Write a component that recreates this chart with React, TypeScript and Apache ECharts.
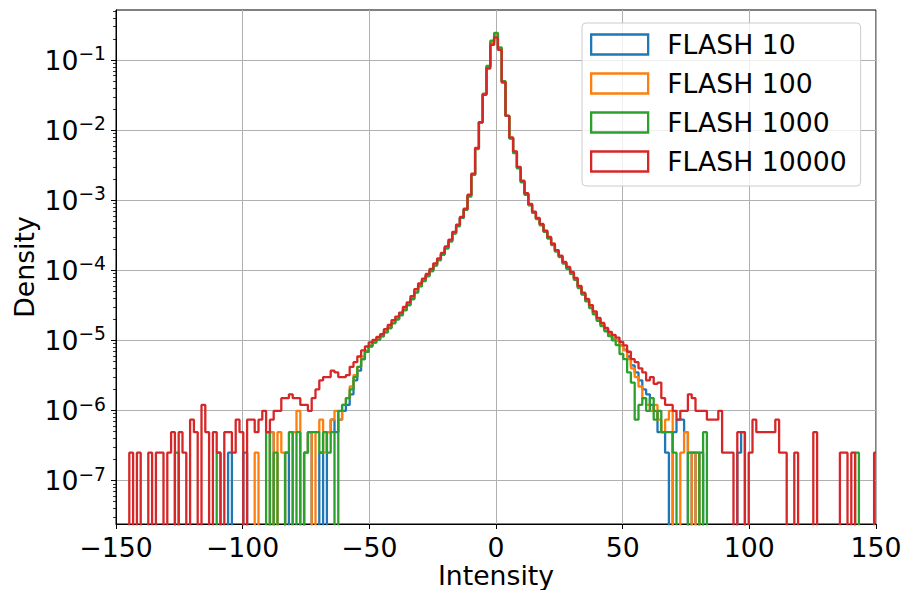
import React, { useEffect, useRef } from 'react';
import * as echarts from 'echarts';

// Histogram bins: centres from -150 to 150, width 1.5
const BIN_START = -150;
const BIN_WIDTH = 1.5;

const SERIES_NAMES = ['FLASH 10', 'FLASH 100', 'FLASH 1000', 'FLASH 10000'];
const COLORS = ['#1f77b4', '#ff7f0e', '#2ca02c', '#d62728'];
const X_TICKS = [-150, -100, -50, 0, 50, 100, 150];
const Y_MAJOR = [1e-7, 1e-6, 1e-5, 1e-4, 1e-3, 1e-2, 1e-1];

// densities per bin (rows of 10 bins, first bin centre noted)
const flash10 = [
  /* -150 */ 0, 0, 0, 0, 0, 0, 0, 0, 0, 0,
  /* -135 */ 0, 0, 0, 0, 0, 0, 0, 0, 0, 0,
  /* -120 */ 0, 0, 0, 0, 0, 0, 0, 0, 0, 0,
  /* -105 */ 2.5e-7, 0, 0, 0, 2.5e-7, 0, 0, 0, 0, 0,
  /* -90 */ 0, 4.9e-7, 0, 0, 0, 2.5e-7, 0, 0, 0, 0,
  /* -75 */ 2.5e-7, 4.9e-7, 0, 0, 2.5e-7, 0, 4.9e-7, 7.4e-7, 4.9e-7, 7.4e-7,
  /* -60 */ 9.9e-7, 1.2e-6, 1.7e-6, 2.7e-6, 3.7e-6, 5.4e-6, 6.9e-6, 8.2e-6, 9.4e-6, 1.03e-5,
  /* -45 */ 1.15e-5, 1.32e-5, 1.5e-5, 1.78e-5, 2.0e-5, 2.3e-5, 2.7e-5, 3.2e-5, 3.9e-5, 4.9e-5,
  /* -30 */ 6.0e-5, 7.1e-5, 8.3e-5, 9.8e-5, 1.18e-4, 1.4e-4, 1.68e-4, 2.1e-4, 2.6e-4, 3.4e-4,
  /* -15 */ 4.3e-4, 5.6e-4, 7.4e-4, 1.15e-3, 2.3e-3, 5.5e-3, 1.3e-2, 3.3e-2, 8.0e-2, 0.175,
  /* 0 */ 0.225, 0.145, 4.9e-2, 1.6e-2, 7.7e-3, 4.8e-3, 2.9e-3, 1.85e-3, 1.22e-3, 8.7e-4,
  /* 15 */ 6.7e-4, 5.5e-4, 4.5e-4, 3.6e-4, 2.9e-4, 2.35e-4, 1.9e-4, 1.58e-4, 1.28e-4, 1.08e-4,
  /* 30 */ 9.1e-5, 7.5e-5, 5.8e-5, 4.6e-5, 3.7e-5, 3.0e-5, 2.45e-5, 2.0e-5, 1.68e-5, 1.42e-5,
  /* 45 */ 1.22e-5, 1.1e-5, 1.0e-5, 8.6e-6, 7.4e-6, 5.9e-6, 4.4e-6, 3.5e-6, 2.7e-6, 2.0e-6,
  /* 60 */ 1.7e-6, 1.2e-6, 9.9e-7, 4.9e-7, 4.9e-7, 2.5e-7, 0, 4.9e-7, 7.4e-7, 7.4e-7,
  /* 75 */ 4.9e-7, 0, 2.5e-7, 0, 2.5e-7, 0, 0, 0, 0, 0,
  /* 90 */ 0, 0, 0, 0, 2.5e-7, 4.9e-7, 0, 0, 0, 0,
  /* 105 */ 0, 0, 0, 0, 0, 0, 0, 0, 0, 0,
  /* 120 */ 0, 0, 0, 0, 0, 0, 0, 0, 0, 0,
  /* 135 */ 0, 0, 0, 0, 0, 0, 0, 0, 0, 0,
  /* 150 */ 0,
];

const flash100 = [
  /* -150 */ 0, 0, 0, 0, 0, 0, 0, 0, 0, 0,
  /* -135 */ 0, 0, 0, 0, 0, 0, 0, 0, 0, 0,
  /* -120 */ 0, 0, 0, 0, 0, 0, 0, 0, 0, 0,
  /* -105 */ 0, 0, 0, 0, 0, 0, 0, 2.5e-7, 0, 0,
  /* -90 */ 0, 4.9e-7, 0, 4.9e-7, 2.5e-7, 0, 0, 4.9e-7, 9.9e-7, 0,
  /* -75 */ 2.5e-7, 4.9e-7, 0, 4.9e-7, 7.4e-7, 2.5e-7, 4.9e-7, 7.4e-7, 9.9e-7, 7.4e-7,
  /* -60 */ 1.2e-6, 1.5e-6, 2.2e-6, 3.2e-6, 4.2e-6, 5.9e-6, 7.2e-6, 8.4e-6, 9.6e-6, 1.05e-5,
  /* -45 */ 1.17e-5, 1.35e-5, 1.55e-5, 1.8e-5, 2.05e-5, 2.35e-5, 2.8e-5, 3.3e-5, 4.0e-5, 5.0e-5,
  /* -30 */ 6.1e-5, 7.2e-5, 8.5e-5, 1.0e-4, 1.2e-4, 1.42e-4, 1.7e-4, 2.1e-4, 2.65e-4, 3.4e-4,
  /* -15 */ 4.4e-4, 5.7e-4, 7.5e-4, 1.16e-3, 2.3e-3, 5.5e-3, 1.3e-2, 3.3e-2, 8.1e-2, 0.18,
  /* 0 */ 0.23, 0.148, 5.0e-2, 1.6e-2, 7.8e-3, 4.9e-3, 2.9e-3, 1.86e-3, 1.24e-3, 8.8e-4,
  /* 15 */ 6.8e-4, 5.5e-4, 4.5e-4, 3.65e-4, 2.95e-4, 2.4e-4, 1.92e-4, 1.6e-4, 1.3e-4, 1.1e-4,
  /* 30 */ 9.2e-5, 7.6e-5, 5.9e-5, 4.7e-5, 3.8e-5, 3.1e-5, 2.5e-5, 2.02e-5, 1.7e-5, 1.45e-5,
  /* 45 */ 1.25e-5, 1.12e-5, 1.0e-5, 8.4e-6, 7.2e-6, 5.4e-6, 4.0e-6, 3.0e-6, 2.2e-6, 1.5e-6,
  /* 60 */ 1.2e-6, 9.9e-7, 1.2e-6, 7.4e-7, 4.9e-7, 7.4e-7, 9.9e-7, 0, 0, 2.5e-7,
  /* 75 */ 4.9e-7, 2.5e-7, 0, 2.5e-7, 0, 0, 0, 0, 0, 0,
  /* 90 */ 0, 0, 0, 0, 0, 0, 0, 0, 0, 0,
  /* 105 */ 0, 0, 0, 0, 0, 0, 0, 0, 0, 0,
  /* 120 */ 0, 0, 0, 0, 0, 0, 0, 0, 0, 0,
  /* 135 */ 0, 0, 0, 0, 0, 0, 0, 0, 0, 0,
  /* 150 */ 0,
];

const flash1000 = [
  /* -150 */ 0, 0, 0, 0, 0, 0, 0, 0, 0, 0,
  /* -135 */ 0, 0, 0, 0, 0, 0, 2.5e-7, 0, 0, 0,
  /* -120 */ 0, 0, 0, 0, 0, 0, 0, 2.5e-7, 0, 0,
  /* -105 */ 0, 0, 0, 0, 0, 0, 0, 0, 0, 0,
  /* -90 */ 4.9e-7, 0, 2.5e-7, 0, 0, 2.5e-7, 4.9e-7, 0, 4.9e-7, 0,
  /* -75 */ 2.5e-7, 4.9e-7, 4.9e-7, 4.9e-7, 2.5e-7, 4.9e-7, 2.5e-7, 4.9e-7, 0, 9.9e-7,
  /* -60 */ 1.2e-6, 1.5e-6, 2.0e-6, 3.0e-6, 4.2e-6, 5.4e-6, 6.9e-6, 8.4e-6, 9.3e-6, 1.02e-5,
  /* -45 */ 1.14e-5, 1.3e-5, 1.5e-5, 1.75e-5, 2.0e-5, 2.3e-5, 2.7e-5, 3.2e-5, 3.9e-5, 4.8e-5,
  /* -30 */ 5.9e-5, 7.0e-5, 8.3e-5, 9.8e-5, 1.17e-4, 1.4e-4, 1.68e-4, 2.05e-4, 2.6e-4, 3.35e-4,
  /* -15 */ 4.3e-4, 5.6e-4, 7.3e-4, 1.13e-3, 2.3e-3, 5.4e-3, 1.3e-2, 3.3e-2, 8.3e-2, 0.19,
  /* 0 */ 0.245, 0.152, 5.0e-2, 1.6e-2, 7.6e-3, 4.7e-3, 2.85e-3, 1.8e-3, 1.2e-3, 8.5e-4,
  /* 15 */ 6.6e-4, 5.4e-4, 4.4e-4, 3.55e-4, 2.85e-4, 2.3e-4, 1.85e-4, 1.55e-4, 1.25e-4, 1.05e-4,
  /* 30 */ 8.9e-5, 7.3e-5, 5.6e-5, 4.5e-5, 3.6e-5, 2.9e-5, 2.35e-5, 1.9e-5, 1.6e-5, 1.35e-5,
  /* 45 */ 1.15e-5, 1.0e-5, 8.6e-6, 6.4e-6, 5.4e-6, 3.5e-6, 2.5e-6, 7.4e-7, 1.2e-6, 1.5e-6,
  /* 60 */ 9.9e-7, 1.5e-6, 7.4e-7, 9.9e-7, 4.9e-7, 4.9e-7, 4.9e-7, 2.5e-7, 0, 0,
  /* 75 */ 0, 2.5e-7, 2.5e-7, 2.5e-7, 0, 4.9e-7, 0, 0, 0, 0,
  /* 90 */ 0, 0, 0, 0, 0, 0, 0, 0, 0, 0,
  /* 105 */ 0, 0, 0, 0, 0, 0, 0, 0, 0, 0,
  /* 120 */ 0, 0, 0, 0, 0, 0, 0, 0, 0, 0,
  /* 135 */ 0, 0, 0, 0, 0, 2.5e-7, 0, 0, 0, 0,
  /* 150 */ 0,
];

const flash10000 = [
  /* -150 */ 0, 0, 0, 0, 2.5e-7, 0, 2.5e-7, 0, 0, 2.5e-7,
  /* -135 */ 0, 2.5e-7, 2.5e-7, 0, 2.5e-7, 4.9e-7, 0, 4.9e-7, 2.5e-7, 0,
  /* -120 */ 7.4e-7, 4.9e-7, 0, 1.2e-6, 4.9e-7, 0, 4.9e-7, 2.5e-7, 0, 4.9e-7,
  /* -105 */ 4.9e-7, 2.5e-7, 7.4e-7, 4.9e-7, 0, 7.4e-7, 7.4e-7, 4.9e-7, 7.4e-7, 9.9e-7,
  /* -90 */ 4.9e-7, 7.4e-7, 9.9e-7, 9.9e-7, 1.5e-6, 1.5e-6, 1.7e-6, 1.5e-6, 1.5e-6, 1.2e-6,
  /* -75 */ 1.2e-6, 9.9e-7, 1.5e-6, 2.0e-6, 2.7e-6, 3.0e-6, 3.0e-6, 3.7e-6, 3.5e-6, 3.0e-6,
  /* -60 */ 3.0e-6, 3.2e-6, 4.2e-6, 4.9e-6, 5.9e-6, 7.2e-6, 8.2e-6, 9.4e-6, 1.02e-5, 1.12e-5,
  /* -45 */ 1.23e-5, 1.45e-5, 1.66e-5, 1.95e-5, 2.19e-5, 2.5e-5, 3.0e-5, 3.5e-5, 4.3e-5, 5.4e-5,
  /* -30 */ 6.5e-5, 7.6e-5, 8.9e-5, 1.05e-4, 1.26e-4, 1.48e-4, 1.78e-4, 2.2e-4, 2.75e-4, 3.55e-4,
  /* -15 */ 4.5e-4, 5.8e-4, 7.6e-4, 1.2e-3, 2.4e-3, 5.6e-3, 1.3e-2, 3.2e-2, 7.6e-2, 0.165,
  /* 0 */ 0.21, 0.14, 4.8e-2, 1.6e-2, 7.9e-3, 5.0e-3, 3.0e-3, 1.9e-3, 1.26e-3, 8.9e-4,
  /* 15 */ 6.9e-4, 5.6e-4, 4.6e-4, 3.7e-4, 3.0e-4, 2.4e-4, 1.95e-4, 1.62e-4, 1.32e-4, 1.12e-4,
  /* 30 */ 9.5e-5, 7.8e-5, 6.0e-5, 4.8e-5, 3.9e-5, 3.2e-5, 2.6e-5, 2.1e-5, 1.78e-5, 1.51e-5,
  /* 45 */ 1.32e-5, 1.2e-5, 1.1e-5, 9.5e-6, 8.5e-6, 6.9e-6, 5.4e-6, 4.9e-6, 4.0e-6, 3.5e-6,
  /* 60 */ 2.7e-6, 3.0e-6, 2.4e-6, 2.5e-6, 1.5e-6, 1.2e-6, 1.2e-6, 9.9e-7, 7.4e-7, 9.9e-7,
  /* 75 */ 9.9e-7, 1.7e-6, 1.5e-6, 9.9e-7, 9.9e-7, 9.9e-7, 7.4e-7, 7.4e-7, 7.4e-7, 9.9e-7,
  /* 90 */ 2.5e-7, 2.5e-7, 2.5e-7, 0, 4.9e-7, 4.9e-7, 0, 2.5e-7, 7.4e-7, 4.9e-7,
  /* 105 */ 4.9e-7, 4.9e-7, 4.9e-7, 4.9e-7, 7.4e-7, 2.5e-7, 2.5e-7, 0, 0, 2.5e-7,
  /* 120 */ 0, 0, 0, 0, 4.9e-7, 0, 0, 0, 0, 0,
  /* 135 */ 0, 2.5e-7, 2.5e-7, 0, 2.5e-7, 0, 0, 0, 0, 0,
  /* 150 */ 2.5e-7,
];

const SERIES_DATA = [flash10, flash100, flash1000, flash10000];

const FONT = 'DejaVu Sans';
const FS = 26.7;
const Y_MIN = 2.4e-8;
const Y_MAX = 0.52;

function minorTicks(): number[] {
  const out: number[] = [];
  for (let e = -8; e <= -1; e++) {
    for (let m = 2; m <= 9; m++) out.push(m * Math.pow(10, e));
  }
  return out;
}

const minus = (v: number) => (v < 0 ? '\u2212' + Math.abs(v) : String(v));

export default function App() {
  const ref = useRef<HTMLDivElement>(null);
  useEffect(() => {
    if (!ref.current) return;
    const chart = echarts.init(ref.current, undefined, { renderer: 'svg' });
    const series = SERIES_DATA.map((arr, si) => ({
      name: SERIES_NAMES[si],
      type: 'line',
      step: 'middle',
      symbol: 'none',
      clip: true,
      yAxisIndex: 0,
      lineStyle: { color: COLORS[si], width: 2.3 },
      itemStyle: { color: COLORS[si] },
      data: arr.map((v, i) => [BIN_START + i * BIN_WIDTH, v > 0 ? v : 1e-12]),
    }));
    chart.setOption({
      animation: false,
      backgroundColor: '#ffffff',
      grid: {
        left: 116,
        right: 28,
        top: 10,
        bottom: 66,
        outerBoundsMode: 'none',
        containLabel: false,
        show: true,
        borderColor: '#000',
        borderWidth: 1,
      },
      legend: {
        orient: 'vertical',
        left: 582,
        top: 23,
        itemWidth: 57,
        itemHeight: 20,
        itemGap: 12,
        padding: [8, 14, 11, 8],
        backgroundColor: 'rgba(255,255,255,0.8)',
        borderColor: '#cccccc',
        borderWidth: 1,
        borderRadius: 4,
        selectedMode: false,
        textStyle: {
          fontFamily: FONT,
          fontSize: FS,
          color: '#000',
          lineHeight: 27,
          padding: [0, 0, 0, 14],
        },
        data: SERIES_NAMES.map((n, i) => ({
          name: n,
          icon: 'rect',
          itemStyle: { color: 'rgba(255,255,255,0)', borderColor: COLORS[i], borderWidth: 2.3 },
        })),
      },
      xAxis: {
        type: 'value',
        min: X_TICKS[0],
        max: X_TICKS[X_TICKS.length - 1],
        interval: 50,
        name: 'Intensity',
        nameLocation: 'middle',
        nameGap: 37,
        nameMoveOverlap: false,
        nameTextStyle: { fontFamily: FONT, fontSize: FS, color: '#000', lineHeight: 28 },
        axisLine: { show: true, onZero: false, lineStyle: { color: '#000', width: 1 } },
        axisTick: { show: true, length: 5, lineStyle: { color: '#000', width: 1 } },
        axisLabel: {
          margin: 10,
          fontFamily: FONT,
          fontSize: FS,
          color: '#000',
          formatter: (v: number) => minus(v),
        },
        splitLine: { show: true, lineStyle: { color: '#b0b0b0', width: 1 } },
      },
      yAxis: [
        {
          type: 'log',
          logBase: 10,
          min: Y_MIN,
          max: Y_MAX,
          name: 'Density',
          nameLocation: 'middle',
          nameGap: 78,
          nameMoveOverlap: false,
          nameTextStyle: { fontFamily: FONT, fontSize: FS, color: '#000' },
          axisLine: { show: true, onZero: false, lineStyle: { color: '#000', width: 1 } },
          axisTick: { show: true, length: 5, customValues: Y_MAJOR, lineStyle: { color: '#000', width: 1 } },
          axisLabel: {
            margin: 10,
            customValues: Y_MAJOR,
            formatter: (v: number) => `{b|10}{s|\u2212${Math.round(-Math.log10(v))}}`,
            rich: {
              b: { fontFamily: FONT, fontSize: FS, color: '#000', lineHeight: 32 },
              s: { fontFamily: FONT, fontSize: 18.7, color: '#000', lineHeight: 16, verticalAlign: 'top' },
            },
          },
          splitLine: { show: true, lineStyle: { color: '#b0b0b0', width: 1 } },
        },
        {
          type: 'log',
          logBase: 10,
          min: Y_MIN,
          max: Y_MAX,
          position: 'left',
          axisLine: { show: false, onZero: false },
          axisTick: { show: true, length: 3, customValues: minorTicks(), lineStyle: { color: '#000', width: 0.8 } },
          axisLabel: { show: false },
          splitLine: { show: false },
        },
      ],
      series,
    });
    return () => chart.dispose();
  }, []);
  return (
    <div
      ref={ref}
      style={{ position: 'fixed', left: 0, top: 0, width: 904, height: 590, background: '#fff' }}
    />
  );
}
